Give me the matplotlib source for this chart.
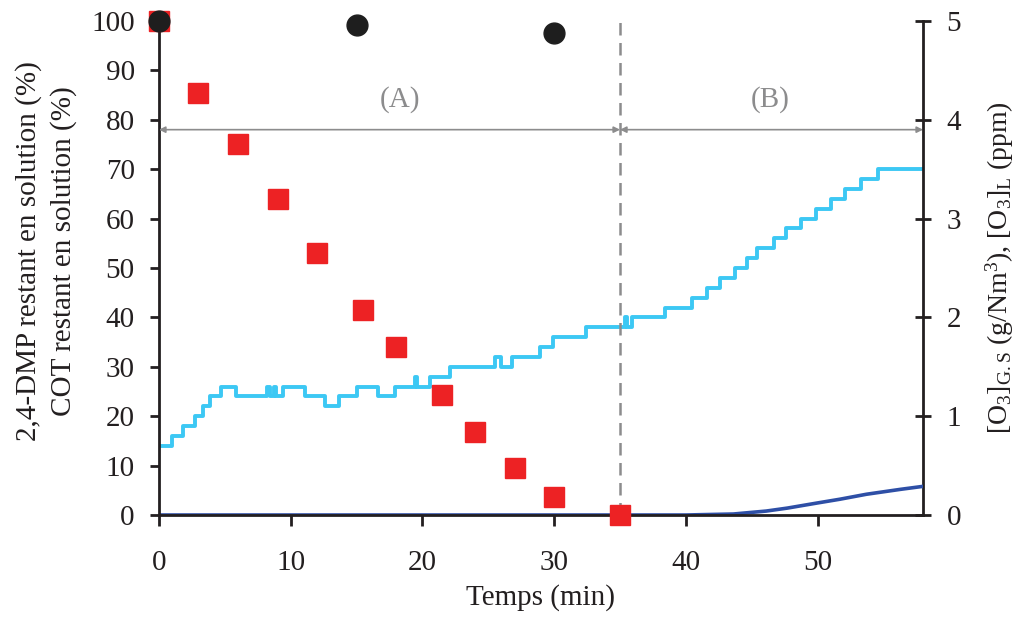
import matplotlib
matplotlib.use("Agg")
import matplotlib.pyplot as plt

plt.rcParams["font.family"] = ["Liberation Serif", "DejaVu Serif"]
plt.rcParams["mathtext.fontset"] = "custom"
plt.rcParams["mathtext.rm"] = "Liberation Serif"
plt.rcParams["mathtext.it"] = "Liberation Serif:italic"
plt.rcParams["mathtext.bf"] = "Liberation Serif:bold"

# --- data ---
# 2,4-DMP remaining (%)
dmp_t = [0, 3, 6, 9, 12, 15.5, 18, 21.5, 24, 27, 30, 35]
dmp_pct = [100, 85.5, 75, 64, 53, 41.5, 34, 24.2, 16.8, 9.5, 3.7, 0]

# COT remaining (%)
cot_t = [0, 15, 30]
cot_pct = [100, 99.2, 97.6]

# ozone gas (g/Nm3), step signal
o3g_t = [0, 0.96, 1.85, 2.7, 3.37, 3.87, 4.68, 5.85, 8.22, 8.45, 8.75, 8.9,
         9.44, 11.1, 12.6, 13.7, 15.0, 16.6, 17.9, 19.4, 19.55, 20.6, 22.1,
         25.5, 26.0, 26.8, 28.9, 29.9, 32.4, 35.4, 35.55, 35.9, 38.4, 40.5,
         41.6, 42.6, 43.7, 44.6, 45.4, 46.7, 47.6, 48.7, 49.9, 51.0, 52.1,
         53.3, 54.6, 58]
o3g_val = [0.7, 0.8, 0.9, 1.0, 1.1, 1.2, 1.3, 1.2, 1.3, 1.2, 1.3, 1.2,
           1.3, 1.2, 1.1, 1.2, 1.3, 1.2, 1.3, 1.4, 1.3, 1.4, 1.5,
           1.6, 1.5, 1.6, 1.7, 1.8, 1.9, 2.0, 1.9, 2.0, 2.1, 2.2,
           2.3, 2.4, 2.5, 2.6, 2.7, 2.8, 2.9, 3.0, 3.1, 3.2, 3.3,
           3.4, 3.5, 3.5]

# dissolved ozone (ppm)
o3l_t = [0, 40, 41, 43.6, 46.1, 47.7, 49.9, 51.7, 53.7, 56.3, 58]
o3l_val = [0, 0, 0.003, 0.01, 0.04, 0.07, 0.12, 0.16, 0.21, 0.26, 0.29]

phase_end = 35
t_max = 58

RED = "#ED2224"
BLACK = "#1E1E1E"
CYAN = "#3CC8F4"
NAVY = "#2E4FA6"
GREY = "#8C8C8D"
INK = "#231F20"
FS = 21

fig = plt.figure(figsize=(10.17, 6.17), dpi=100)
ax = fig.add_axes([0.1563, 0.1653, 0.7513, 0.8007])
ax2 = ax.twinx()

ax.set_xlim(0, t_max)
ax.set_ylim(0, 100)
ax2.set_ylim(0, 5)

# ozone lines on the right axis
ax2.step(o3g_t, o3g_val, where="post", color=CYAN, lw=2.8, zorder=2)
ax2.plot(o3l_t, o3l_val, color=NAVY, lw=2.6, zorder=3)

# phase separator and arrows
ax.axvline(phase_end, color=GREY, lw=1.8, ls=(0, (5, 3)), zorder=1)
arrow_kw = dict(arrowstyle="<|-|>", color=GREY, lw=1.2, mutation_scale=9,
                shrinkA=0, shrinkB=0)
ax.annotate("", xy=(0, 78), xytext=(phase_end, 78), arrowprops=arrow_kw)
ax.annotate("", xy=(phase_end, 78), xytext=(t_max, 78), arrowprops=arrow_kw)
ax.text(18.3, 84, "(A)", color=GREY, fontsize=FS, ha="center", va="center")
ax.text(46.4, 84, "(B)", color=GREY, fontsize=FS, ha="center", va="center")

# put left axis above right one so markers sit on top
ax.set_zorder(ax2.get_zorder() + 1)
ax.patch.set_visible(False)

ax.plot(dmp_t, dmp_pct, ls="none", marker="s", ms=15, color=RED,
        mec=RED, clip_on=False, zorder=4)
ax.plot(cot_t, cot_pct, ls="none", marker="o", ms=15, color=BLACK,
        mec=BLACK, clip_on=False, zorder=5)

# axes styling
for a in (ax, ax2):
    a.spines["top"].set_visible(False)
    for side in ("left", "right", "bottom"):
        a.spines[side].set_linewidth(2)
        a.spines[side].set_color(INK)
ax.spines["right"].set_visible(False)
ax2.spines["left"].set_visible(False)
ax2.spines["bottom"].set_visible(False)

ax.set_xticks([0, 10, 20, 30, 40, 50])
ax.set_yticks(range(0, 101, 10))
ax2.set_yticks(range(0, 6))
ax.tick_params(axis="x", labelsize=FS, width=2, length=8, direction="out",
               color=INK, labelcolor=INK, pad=17)
ax.tick_params(axis="y", labelsize=FS, width=2, length=6.5, direction="out",
               color=INK, labelcolor=INK, pad=11)
ax2.tick_params(axis="y", labelsize=FS, width=2, length=12, direction="inout",
                color=INK, labelcolor=INK, pad=11)

ax.set_xlabel("Temps (min)", fontsize=FS, labelpad=6, color=INK)
ax.set_ylabel("2,4-DMP restant en solution (%)\nCOT restant en solution (%)",
              fontsize=FS, linespacing=1.4, color=INK)
ax.yaxis.set_label_coords(-0.107, 0.535)
ax2.set_ylabel(r"[O$_3$]$_{\mathrm{G{.}S}}$ (g/Nm$^3$), [O$_3$]$_{\mathrm{L}}$ (ppm)",
               fontsize=20, color=INK)
ax2.yaxis.set_label_coords(1.079, 0.5)

fig.savefig("out.png", dpi=100)
